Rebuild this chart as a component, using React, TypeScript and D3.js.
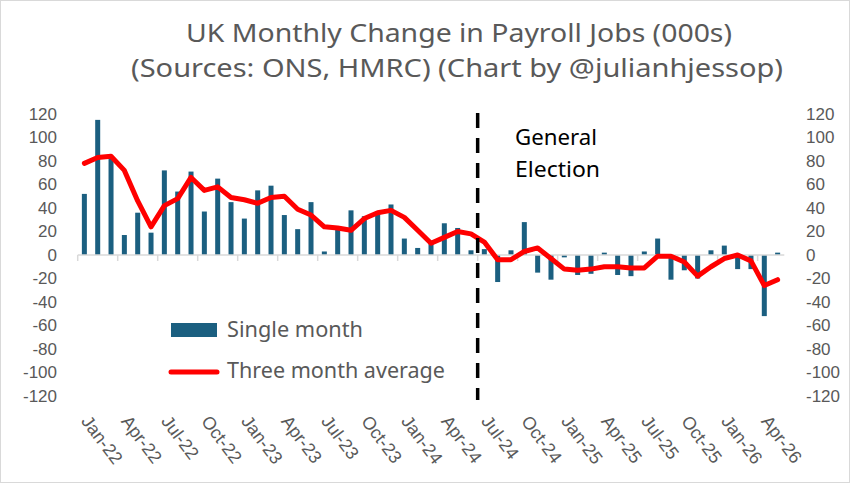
import React from 'react';
import * as d3 from 'd3';

// months Jan-22 .. May-26
const months = d3.timeMonth.range(new Date(2022, 0, 1), new Date(2026, 5, 1));
const fmt = d3.timeFormat('%b-%y');

// monthly change in payroll jobs (000s)
const singleMonth = [
  52, 115, 83, 17, 36, 19, 72, 54, 71, 37, 65, 45, 31, 55, 59, 34, 22, 45, 3, 23,
  38, 33, 37, 43, 14, 6, 11, 27, 23, 4, 5, -23, 4, 28, -15, -21, -2, -17, -16, 2,
  -17, -18, 3, 14, -21, -13, -20, 4, 8, -12, -12, -52, 2,
];

// three month average (000s)
const threeMonthAvg = [
  78, 83, 84, 72, 46, 24, 42, 48, 66, 55, 58, 49, 47, 44, 49, 50, 39, 34, 24, 23,
  21, 31, 36, 38, 32, 21, 10, 15, 20, 18, 11, -4, -4, 3, 6, -3, -12, -13, -12, -10,
  -10, -11, -11, -1, -1, -6, -18, -10, -3, 0, -5, -26, -21,
];

const yTicks = [120, 100, 80, 60, 40, 20, 0, -20, -40, -60, -80, -100, -120];
const electionMonth = 'Jul-24';

const W = 850;
const H = 483;
const BAR = '#1b5f80';
const TXT = '#595959';
const AXIS_FONT = '"Liberation Sans", Arial, sans-serif';
const LABEL_FONT = '"Noto Sans", "Open Sans", sans-serif';

export default function App() {
  const labels = months.map(d => fmt(d));
  const x = d3.scaleBand<string>().domain(labels).range([77.7, 784.3]).padding(0);
  const y = d3.scaleLinear().domain([-120, 120]).range([396, 114]);
  const bw = 5;
  const cx = (l: string) => (x(l) as number) + x.bandwidth() / 2;

  const line = d3
    .line<number>()
    .x((_, i) => cx(labels[i]))
    .y(d => y(d));

  const tickCats = labels.filter((_, i) => i % 3 === 0);
  const boundaries = d3.range(0, labels.length + 1, 3).map(i => 77.7 + i * x.bandwidth());
  const elecX = x(electionMonth) as number;

  return (
    <svg
      width={W}
      height={H}
      style={{ position: 'absolute', left: 0, top: 0, display: 'block', background: '#fff' }}
    >
      <rect x={0.5} y={0.5} width={W - 1} height={H - 1} fill="#fff" stroke="#d9d9d9" />

      <text x={459} y={42} textAnchor="middle" fill={TXT} fontFamily={LABEL_FONT} fontSize={26}
        textLength={546} lengthAdjust="spacingAndGlyphs">
        UK Monthly Change in Payroll Jobs (000s)
      </text>
      <text x={457} y={77} textAnchor="middle" fill={TXT} fontFamily={LABEL_FONT} fontSize={26}
        textLength={652} lengthAdjust="spacingAndGlyphs">
        (Sources: ONS, HMRC) (Chart by @julianhjessop)
      </text>

      {/* y axes */}
      {yTicks.map(t => (
        <g key={t} fontFamily={AXIS_FONT} fontSize={17} fill={TXT}>
          <text x={57} y={y(t)} textAnchor="end" dominantBaseline="central">
            {t}
          </text>
          <text x={806} y={y(t)} textAnchor="start" dominantBaseline="central">
            {t}
          </text>
        </g>
      ))}

      {/* bars */}
      {singleMonth.map((v, i) => (
        <rect
          key={i}
          x={cx(labels[i]) - bw / 2}
          y={y(Math.max(0, v))}
          width={bw}
          height={Math.abs(y(v) - y(0))}
          fill={BAR}
        />
      ))}

      {/* zero axis + ticks */}
      <line x1={77.7} x2={784.3} y1={y(0)} y2={y(0)} stroke="#d9d9d9" strokeWidth={1.5} />
      {boundaries.map((b, i) => (
        <line key={i} x1={b} x2={b} y1={y(0)} y2={y(0) + 6} stroke="#d9d9d9" strokeWidth={1.5} />
      ))}

      {/* x labels */}
      {tickCats.map(l => (
        <text
          key={l}
          transform={`translate(${cx(l) + 1},${418}) rotate(53)`}
          fontFamily={AXIS_FONT}
          fontSize={18}
          fill={TXT}
          dominantBaseline="central"
        >
          {l}
        </text>
      ))}

      {/* three month average */}
      <path
        d={line(threeMonthAvg) || ''}
        fill="none"
        stroke="#ff0000"
        strokeWidth={5}
        strokeLinejoin="round"
        strokeLinecap="round"
      />

      {/* election marker */}
      <line
        x1={elecX}
        x2={elecX}
        y1={113}
        y2={400}
        stroke="#000"
        strokeWidth={3.5}
        strokeDasharray="15 10"
      />
      <text x={515} y={145} fontFamily={LABEL_FONT} fontSize={21} fill="#000"
        textLength={82} lengthAdjust="spacingAndGlyphs">
        General
      </text>
      <text x={515} y={177} fontFamily={LABEL_FONT} fontSize={21} fill="#000"
        textLength={85} lengthAdjust="spacingAndGlyphs">
        Election
      </text>

      {/* legend */}
      <rect x={171} y={323} width={46} height={14} fill={BAR} />
      <text x={227} y={337} fontFamily={LABEL_FONT} fontSize={21} fill={TXT}
        textLength={136} lengthAdjust="spacingAndGlyphs">
        Single month
      </text>
      <line x1={171} x2={217} y1={372} y2={372} stroke="#ff0000" strokeWidth={5} strokeLinecap="round" />
      <text x={227} y={378} fontFamily={LABEL_FONT} fontSize={21} fill={TXT}
        textLength={218} lengthAdjust="spacingAndGlyphs">
        Three month average
      </text>
    </svg>
  );
}
